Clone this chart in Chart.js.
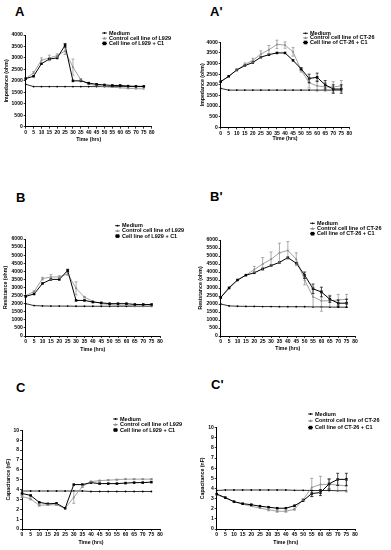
<!DOCTYPE html>
<html>
<head>
<meta charset="utf-8">
<script src="https://cdn.jsdelivr.net/npm/chart.js@4.4.0/dist/chart.umd.min.js"></script>
<style>
html, body { margin: 0; padding: 0; background: #fff; }
body { width: 391px; height: 550px; position: relative; overflow: hidden; font-family: "Liberation Sans", Arial, sans-serif; }
canvas { position: absolute; }
.letter { position: absolute; font-weight: bold; font-size: 13px; line-height: 13px; color: #000; }
</style>
</head>
<body>
<script>
// time points (hrs)
const HOURS = [0, 5, 10, 15, 20, 25, 30, 35, 40, 45, 50, 55, 60, 65, 70, 75];

// A - impedance, L929
const MEDIUM_A  = [1850, 1750, 1750, 1750, 1750, 1750, 1750, 1750, 1750, 1750, 1750, 1750, 1750, 1750, 1750, 1750];
const CONTROL_A = [2100, 2350, 2900, 3000, 3100, 3300, 2600, 2050, 1850, 1800, 1750, 1720, 1700, 1670, 1660, 1650];
const C1_A      = [2100, 2200, 2750, 2950, 3000, 3550, 2000, 2000, 1900, 1850, 1820, 1800, 1800, 1770, 1760, 1760];
const CONTROL_A_ERR = [0, 50, 100, 120, 80, 150, 350, 50, 0, 0, 0, 0, 0, 0, 0, 0];
const C1_A_ERR      = [0, 0, 0, 0, 0, 80, 0, 0, 0, 0, 0, 0, 0, 0, 0, 0];

// A' - impedance, CT-26
const MEDIUM_A2  = [1830, 1750, 1750, 1750, 1750, 1750, 1750, 1750, 1750, 1750, 1750, 1750, 1750, 1750, 1750, 1750];
const CONTROL_A2 = [2150, 2400, 2700, 2950, 3150, 3450, 3650, 3900, 3870, 3550, 2700, 2100, 1950, 1900, 1900, 1950];
const C1_A2      = [2150, 2400, 2700, 2900, 3050, 3300, 3420, 3500, 3500, 3150, 2750, 2300, 2350, 2000, 1800, 1800];
const CONTROL_A2_ERR = [0, 0, 50, 80, 100, 150, 200, 200, 150, 200, 100, 250, 250, 200, 250, 250];
const C1_A2_ERR      = [0, 0, 0, 0, 0, 0, 0, 0, 0, 0, 50, 200, 200, 200, 200, 200];

// B - resistance, L929
const MEDIUM_B  = [2000, 1880, 1860, 1850, 1850, 1850, 1840, 1840, 1840, 1840, 1840, 1840, 1840, 1840, 1840, 1840];
const CONTROL_B = [2500, 2750, 3550, 3650, 3650, 3850, 2950, 2400, 2150, 2000, 1950, 1900, 1900, 1850, 1850, 1850];
const C1_B      = [2450, 2600, 3250, 3500, 3500, 4050, 2200, 2200, 2100, 2050, 2000, 2000, 2000, 1950, 1950, 1950];
const CONTROL_B_ERR = [0, 50, 80, 150, 80, 100, 400, 50, 0, 0, 0, 0, 0, 0, 0, 0];
const C1_B_ERR      = [0, 0, 0, 0, 0, 80, 0, 0, 0, 0, 0, 0, 0, 0, 0, 0];

// B' - resistance, CT-26
const MEDIUM_B2  = [2000, 1880, 1860, 1850, 1850, 1840, 1840, 1830, 1830, 1830, 1830, 1820, 1820, 1810, 1800, 1800];
const CONTROL_B2 = [2400, 3050, 3500, 3800, 4150, 4500, 4800, 5200, 5350, 4800, 3500, 2450, 2200, 2200, 2250, 2300];
const C1_B2      = [2400, 3000, 3500, 3800, 3950, 4200, 4400, 4600, 4900, 4550, 3800, 2950, 2750, 2300, 2050, 2050];
const CONTROL_B2_ERR = [0, 0, 0, 0, 200, 400, 450, 600, 550, 400, 300, 600, 650, 350, 350, 300];
const C1_B2_ERR      = [0, 0, 0, 0, 0, 0, 0, 0, 0, 0, 200, 300, 300, 200, 200, 250];

// C - capacitance, L929
const MEDIUM_C  = [3.85, 3.85, 3.85, 3.85, 3.85, 3.85, 3.85, 3.85, 3.8, 3.8, 3.8, 3.8, 3.8, 3.8, 3.8, 3.8];
const CONTROL_C = [3.3, 3.05, 2.4, 2.45, 2.45, 2.1, 3.2, 4.3, 4.8, 4.9, 4.95, 5.0, 5.05, 5.05, 5.05, 5.05];
const C1_C      = [3.6, 3.4, 2.7, 2.55, 2.6, 2.1, 4.5, 4.5, 4.7, 4.6, 4.6, 4.6, 4.65, 4.7, 4.7, 4.75];
const CONTROL_C_ERR = [0.1, 0.1, 0.1, 0.05, 0.05, 0, 0.6, 0.1, 0.05, 0.05, 0.05, 0.05, 0.05, 0.05, 0.05, 0.05];
const C1_C_ERR      = [0, 0, 0, 0, 0, 0, 0, 0, 0, 0, 0, 0, 0, 0, 0, 0];

// C' - capacitance, CT-26
const MEDIUM_C2  = [3.8, 3.85, 3.85, 3.85, 3.85, 3.85, 3.85, 3.85, 3.85, 3.82, 3.82, 3.8, 3.8, 3.8, 3.78, 3.78];
const CONTROL_C2 = [3.4, 3.05, 2.7, 2.45, 2.25, 2.05, 1.9, 1.75, 1.75, 1.95, 2.9, 4.1, 4.4, 4.4, 4.35, 4.25];
const C1_C2      = [3.45, 3.1, 2.7, 2.5, 2.4, 2.25, 2.15, 2.05, 2.05, 2.3, 2.8, 3.5, 3.6, 4.45, 4.9, 4.9];
const CONTROL_C2_ERR = [0, 0, 0, 0, 0, 0, 0.1, 0.1, 0.1, 0.1, 0.1, 0.9, 0.8, 0.5, 0.6, 0.6];
const C1_C2_ERR      = [0, 0, 0, 0, 0, 0, 0, 0, 0, 0, 0, 0.3, 0.3, 0.5, 0.6, 0.6];

const X_MAX = 80;
const X_STEP = 5;

const FONT = '"Liberation Sans", Arial, sans-serif';
const GREY = '#8a8a8a';

// box = canvas [x, y, w, h], area = plot area [left, top, right, bottom], all page px
const panels = [
  { letter: 'A', lx: 15, ly: 5, box: [0, 20, 195, 128], area: [25.7, 35, 151.7, 126.7],
    yTitle: 'Impedance (ohm)', yMax: 4000, yStep: 500, yTitleX: 6.5, xTitleY: 139.5,
    legend: [102, 33, 5.2], cell: 'L929',
    series: [MEDIUM_A, CONTROL_A, C1_A], errs: [null, CONTROL_A_ERR, C1_A_ERR] },
  { letter: "A'", lx: 210, ly: 5, box: [195, 20, 196, 128], area: [220.7, 42.3, 349.3, 127.3],
    yTitle: 'Impedance (ohm)', yMax: 4000, yStep: 500, yTitleX: 202.5, xTitleY: 138.5,
    legend: [303, 33.3, 4.6], cell: 'CT-26',
    series: [MEDIUM_A2, CONTROL_A2, C1_A2], errs: [null, CONTROL_A2_ERR, C1_A2_ERR] },
  { letter: 'B', lx: 16, ly: 191, box: [0, 205, 195, 150], area: [25.7, 239, 160, 336],
    yTitle: 'Resistance (ohm)', yMax: 6000, yStep: 500, yTitleX: 6, xTitleY: 349.3,
    legend: [115, 225.7, 5.2], cell: 'L929',
    series: [MEDIUM_B, CONTROL_B, C1_B], errs: [null, CONTROL_B_ERR, C1_B_ERR] },
  { letter: "B'", lx: 210, ly: 190, box: [195, 205, 196, 150], area: [220.7, 240, 355, 336],
    yTitle: 'Resistance (ohm)', yMax: 6000, yStep: 500, yTitleX: 201, xTitleY: 348.5,
    legend: [310, 223.3, 5.2], cell: 'CT-26',
    series: [MEDIUM_B2, CONTROL_B2, C1_B2], errs: [null, CONTROL_B2_ERR, C1_B2_ERR] },
  { letter: 'C', lx: 16, ly: 381, box: [0, 400, 195, 150], area: [22, 430.3, 160, 529],
    yTitle: 'Capacitance (nF)', yMax: 10, yStep: 1, yTitleX: 9, xTitleY: 542.7,
    legend: [113, 419, 5.5], cell: 'L929',
    series: [MEDIUM_C, CONTROL_C, C1_C], errs: [null, CONTROL_C_ERR, C1_C_ERR] },
  { letter: "C'", lx: 211, ly: 378, box: [195, 400, 196, 150], area: [216.7, 427.7, 355, 529],
    yTitle: 'Capacitance (nF)', yMax: 10, yStep: 1, yTitleX: 202.5, xTitleY: 542.7,
    legend: [308, 414, 6.8], cell: 'CT-26',
    series: [MEDIUM_C2, CONTROL_C2, C1_C2], errs: [null, CONTROL_C2_ERR, C1_C2_ERR] },
];

function marker(ctx, style, r, x, y) {
  ctx.beginPath();
  if (style === 'rect') {
    ctx.rect(x - r, y - r, 2 * r, 2 * r);
  } else if (style === 'triangle') {
    ctx.moveTo(x, y - r);
    ctx.lineTo(x + r, y + r * 0.8);
    ctx.lineTo(x - r, y + r * 0.8);
    ctx.closePath();
  } else {
    ctx.arc(x, y, r, 0, Math.PI * 2);
  }
  ctx.fill();
}

const errorBars = {
  id: 'errorBars',
  afterDatasetsDraw(chart) {
    const {ctx} = chart;
    const ys = chart.scales.y;
    chart.data.datasets.forEach((ds, i) => {
      if (!ds.errors) return;
      const meta = chart.getDatasetMeta(i);
      ctx.save();
      ctx.strokeStyle = ds.borderColor;
      ctx.lineWidth = 0.7;
      meta.data.forEach((pt, j) => {
        const e = ds.errors[j];
        if (!e) return;
        const v = ds.data[j].y;
        const top = ys.getPixelForValue(v + e);
        const bot = ys.getPixelForValue(Math.max(0, v - e));
        ctx.beginPath();
        ctx.moveTo(pt.x, top); ctx.lineTo(pt.x, bot);
        ctx.moveTo(pt.x - 1.5, top); ctx.lineTo(pt.x + 1.5, top);
        ctx.moveTo(pt.x - 1.5, bot); ctx.lineTo(pt.x + 1.5, bot);
        ctx.stroke();
      });
      ctx.restore();
    });
  }
};

const sideLegend = {
  id: 'sideLegend',
  afterDraw(chart, args, opts) {
    const {ctx} = chart;
    ctx.save();
    ctx.font = 'bold 5.5px ' + FONT;
    ctx.textBaseline = 'middle';
    chart.data.datasets.forEach((ds, i) => {
      const y = opts.y + i * opts.dy;
      ctx.strokeStyle = ds.borderColor;
      ctx.lineWidth = ds.borderWidth;
      ctx.beginPath();
      ctx.moveTo(opts.x, y);
      ctx.lineTo(opts.x + 5, y);
      ctx.stroke();
      ctx.fillStyle = ds.pointBackgroundColor;
      marker(ctx, ds.pointStyle, ds.pointRadius, opts.x + 2.5, y);
      ctx.fillStyle = '#000';
      ctx.fillText(ds.label, opts.x + 7, y);
    });
    ctx.restore();
  }
};

function points(vals) {
  return vals.map((v, i) => ({x: HOURS[i], y: v}));
}

panels.forEach(p => {
  const [bx, by, bw, bh] = p.box;
  const [al, at, ar, ab] = p.area;

  const lab = document.createElement('div');
  lab.className = 'letter';
  lab.style.left = p.lx + 'px';
  lab.style.top = p.ly + 'px';
  lab.textContent = p.letter;
  document.body.appendChild(lab);

  const cv = document.createElement('canvas');
  cv.width = bw; cv.height = bh;
  cv.style.left = bx + 'px'; cv.style.top = by + 'px';
  cv.style.width = bw + 'px'; cv.style.height = bh + 'px';
  document.body.appendChild(cv);

  const titleSize = 5.2;
  const lh = titleSize * 1.2;
  const yAxisW = al - bx;
  const xAxisH = by + bh - ab;

  const names = ['Medium', 'Control cell line of ' + p.cell, 'Cell line of ' + p.cell + ' + C1'];
  const colors = ['#000', GREY, '#000'];
  const styles = ['circle', 'triangle', 'rect'];
  const radii = [0.9, 1.5, 1.8];
  const widths = [0.8, 0.8, 1];

  const datasets = p.series.map((s, k) => ({
    label: names[k],
    data: points(s),
    errors: p.errs[k],
    borderColor: colors[k],
    backgroundColor: colors[k],
    pointBackgroundColor: colors[k],
    pointBorderColor: colors[k],
    pointBorderWidth: 0,
    pointStyle: styles[k],
    pointRadius: radii[k],
    borderWidth: widths[k],
    tension: 0,
    clip: false,
    order: 2 - k
  }));

  new Chart(cv, {
    type: 'line',
    data: { datasets },
    options: {
      responsive: false,
      animation: false,
      events: [],
      layout: { padding: { left: 0, top: at - by, right: bx + bw - ar, bottom: 0 } },
      plugins: {
        legend: { display: false },
        tooltip: { enabled: false },
        sideLegend: { x: p.legend[0] - bx, y: p.legend[1] - by, dy: p.legend[2] }
      },
      scales: {
        x: {
          type: 'linear', min: 0, max: X_MAX,
          afterFit: s => { s.height = xAxisH; },
          ticks: { stepSize: X_STEP, autoSkip: false, maxRotation: 0, padding: 1,
                   color: '#000', font: { family: FONT, size: 5, weight: 'bold' } },
          grid: { display: true, drawOnChartArea: false, drawTicks: true, tickLength: 2, color: '#000', lineWidth: 0.8 },
          border: { display: true, color: '#000', width: 1 },
          title: { display: true, text: 'Time (hrs)', color: '#000',
                   font: { family: FONT, size: titleSize, weight: 'bold' },
                   padding: { top: 0, bottom: by + bh - p.xTitleY - lh / 2 } }
        },
        y: {
          type: 'linear', min: 0, max: p.yMax,
          afterFit: s => { s.width = yAxisW; },
          ticks: { stepSize: p.yStep, autoSkip: false, padding: 1, callback: v => String(v),
                   color: '#000', font: { family: FONT, size: 5, weight: 'bold' } },
          grid: { display: true, drawOnChartArea: false, drawTicks: true, tickLength: 2, color: '#000', lineWidth: 0.8 },
          border: { display: true, color: '#000', width: 1 },
          title: { display: true, text: p.yTitle, color: '#000',
                   font: { family: FONT, size: titleSize, weight: 'bold' },
                   padding: { top: p.yTitleX - bx - lh / 2, bottom: 0 } }
        }
      }
    },
    plugins: [errorBars, sideLegend]
  });
});
</script>
</body>
</html>
